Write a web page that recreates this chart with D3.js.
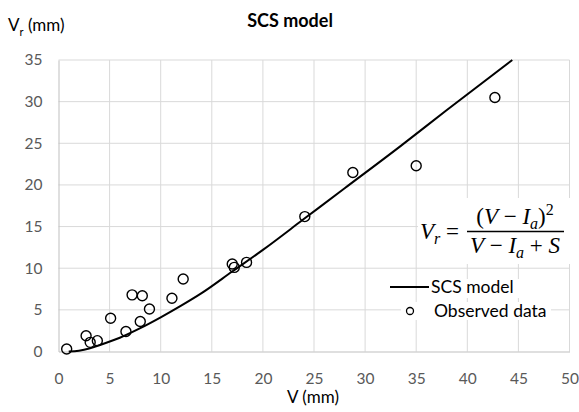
<!DOCTYPE html>
<html>
<head>
<meta charset="utf-8">
<script src="https://cdn.jsdelivr.net/npm/d3@7"></script>
<style>
  body { margin: 0; background: #fff; }
  svg { display: block; font-family: Lato, "Open Sans", sans-serif; }
</style>
</head>
<body>
<div id="chart"></div>
<script>
const width = 579;
const height = 412;

// observed points (V, Vr)
const obsV  = [0.8, 2.7, 3.1, 3.8, 5.1, 6.6, 7.2, 8.2, 8.0, 8.9, 11.1, 12.2, 17.0, 17.2, 18.4, 24.1, 28.8, 35.0, 42.7];
const obsVr = [0.3, 1.9, 1.1, 1.3, 4.0, 2.4, 6.8, 6.7, 3.6, 5.1, 6.4, 8.7, 10.5, 10.1, 10.7, 16.2, 21.5, 22.3, 30.5];

// model curve
const modelV  = [1, 2, 3, 4, 6, 8, 10, 12, 14, 17, 20, 24, 28, 33.4, 38, 44.4];
const modelVr = [0, 0.1, 0.35, 0.75, 1.65, 2.8, 4.1, 5.5, 7.0, 9.6, 12.2, 15.9, 19.6, 24.6, 29.0, 35];

const xTicks = [0, 5, 10, 15, 20, 25, 30, 35, 40, 45, 50];
const yTicks = [0, 5, 10, 15, 20, 25, 30, 35];

const svg = d3.select("#chart")
  .append("svg")
  .attr("width", width)
  .attr("height", height);

const x = d3.scaleLinear().domain([0, 50]).range([58.5, 569.5]);
const y = d3.scaleLinear().domain([0, 35]).range([351.5, 60]);

// gridlines
svg.append("g")
  .selectAll("line.vg")
  .data(xTicks.slice(1))
  .enter().append("line")
  .attr("x1", d => x(d)).attr("x2", d => x(d))
  .attr("y1", y(35)).attr("y2", y(0))
  .attr("stroke", "#d9d9d9").attr("stroke-width", 1);

svg.append("g")
  .selectAll("line.hg")
  .data(yTicks.slice(1))
  .enter().append("line")
  .attr("x1", x(0)).attr("x2", x(50))
  .attr("y1", d => y(d)).attr("y2", d => y(d))
  .attr("stroke", "#d9d9d9").attr("stroke-width", 1);

// axes
const xAxis = svg.append("g")
  .attr("transform", "translate(0," + y(0) + ")")
  .call(d3.axisBottom(x).tickValues(xTicks).tickSize(0).tickPadding(21));
const yAxis = svg.append("g")
  .attr("transform", "translate(" + x(0) + ",0)")
  .call(d3.axisLeft(y).tickValues(yTicks).tickSize(0).tickPadding(16));

[xAxis, yAxis].forEach(g => {
  g.select(".domain").attr("stroke", "#bfbfbf");
  g.selectAll("text")
    .attr("fill", "#595959")
    .style("font-family", "Lato, sans-serif")
    .style("font-size", "15.5px");
});

// formula box + legend backgrounds
svg.append("rect").attr("x", 418).attr("y", 198).attr("width", 160).attr("height", 66).attr("fill", "#fff");
svg.append("rect").attr("x", 430).attr("y", 279).attr("width", 90).attr("height", 19).attr("fill", "#fff");
svg.append("rect").attr("x", 401).attr("y", 302).attr("width", 150).attr("height", 18).attr("fill", "#fff");

// model line
const line = d3.line()
  .x((d, i) => x(modelV[i]))
  .y((d, i) => y(modelVr[i]))
  .curve(d3.curveMonotoneX);

svg.append("path")
  .datum(modelV)
  .attr("d", line)
  .attr("fill", "none")
  .attr("stroke", "#000")
  .attr("stroke-width", 2);

// observed points
svg.append("g")
  .selectAll("circle")
  .data(obsV)
  .enter().append("circle")
  .attr("cx", d => x(d))
  .attr("cy", (d, i) => y(obsVr[i]))
  .attr("r", 5)
  .attr("fill", "none")
  .attr("stroke", "#000")
  .attr("stroke-width", 1.4);

// title and axis titles
svg.append("text")
  .attr("x", 290).attr("y", 27)
  .attr("text-anchor", "middle")
  .style("font-weight", "bold")
  .style("font-size", "18px")
  .attr("fill", "#000")
  .text("SCS model");

const yl = svg.append("text")
  .attr("x", 8).attr("y", 31)
  .style("font-size", "17px")
  .attr("fill", "#000");
yl.append("tspan").text("V");
yl.append("tspan").attr("dy", 5).style("font-size", "11px").text("r");
yl.append("tspan").attr("dy", -5).text(" (mm)");

svg.append("text")
  .attr("x", 313).attr("y", 403)
  .attr("text-anchor", "middle")
  .style("font-size", "17px")
  .attr("fill", "#000")
  .text("V (mm)");

// formula
const ff = "'Liberation Serif', 'DejaVu Serif', serif";
const f = svg.append("g").style("font-family", ff).style("font-size", "23px").attr("fill", "#000");

const lhs = f.append("text").attr("x", 420).attr("y", 239);
lhs.append("tspan").style("font-style", "italic").text("V");
lhs.append("tspan").attr("dy", 5).style("font-style", "italic").style("font-size", "16px").text("r");
lhs.append("tspan").attr("dy", -5).text(" = ");

const num = f.append("text").attr("x", 515).attr("y", 224).attr("text-anchor", "middle");
num.append("tspan").text("(");
num.append("tspan").style("font-style", "italic").text("V");
num.append("tspan").text(" − ");
num.append("tspan").style("font-style", "italic").text("I");
num.append("tspan").attr("dy", 5).style("font-style", "italic").style("font-size", "16px").text("a");
num.append("tspan").attr("dy", -5).text(")");
num.append("tspan").attr("dy", -9).style("font-size", "16px").text("2");

f.append("line")
  .attr("x1", 467).attr("x2", 564)
  .attr("y1", 231.5).attr("y2", 231.5)
  .attr("stroke", "#000").attr("stroke-width", 1.3);

const den = f.append("text").attr("x", 515).attr("y", 253).attr("text-anchor", "middle");
den.append("tspan").style("font-style", "italic").text("V");
den.append("tspan").text(" − ");
den.append("tspan").style("font-style", "italic").text("I");
den.append("tspan").attr("dy", 5).style("font-style", "italic").style("font-size", "16px").text("a");
den.append("tspan").attr("dy", -5).text(" + ");
den.append("tspan").style("font-style", "italic").text("S");

// legend
svg.append("line")
  .attr("x1", 390).attr("x2", 429)
  .attr("y1", 287).attr("y2", 287)
  .attr("stroke", "#000").attr("stroke-width", 2);
svg.append("text")
  .attr("x", 431).attr("y", 293)
  .style("font-size", "17.5px")
  .attr("fill", "#000")
  .text("SCS model");
svg.append("circle")
  .attr("cx", 410).attr("cy", 311)
  .attr("r", 3.5)
  .attr("fill", "none")
  .attr("stroke", "#000")
  .attr("stroke-width", 1.3);
svg.append("text")
  .attr("x", 434).attr("y", 317)
  .style("font-size", "17.5px")
  .attr("fill", "#000")
  .text("Observed data");
</script>
</body>
</html>
